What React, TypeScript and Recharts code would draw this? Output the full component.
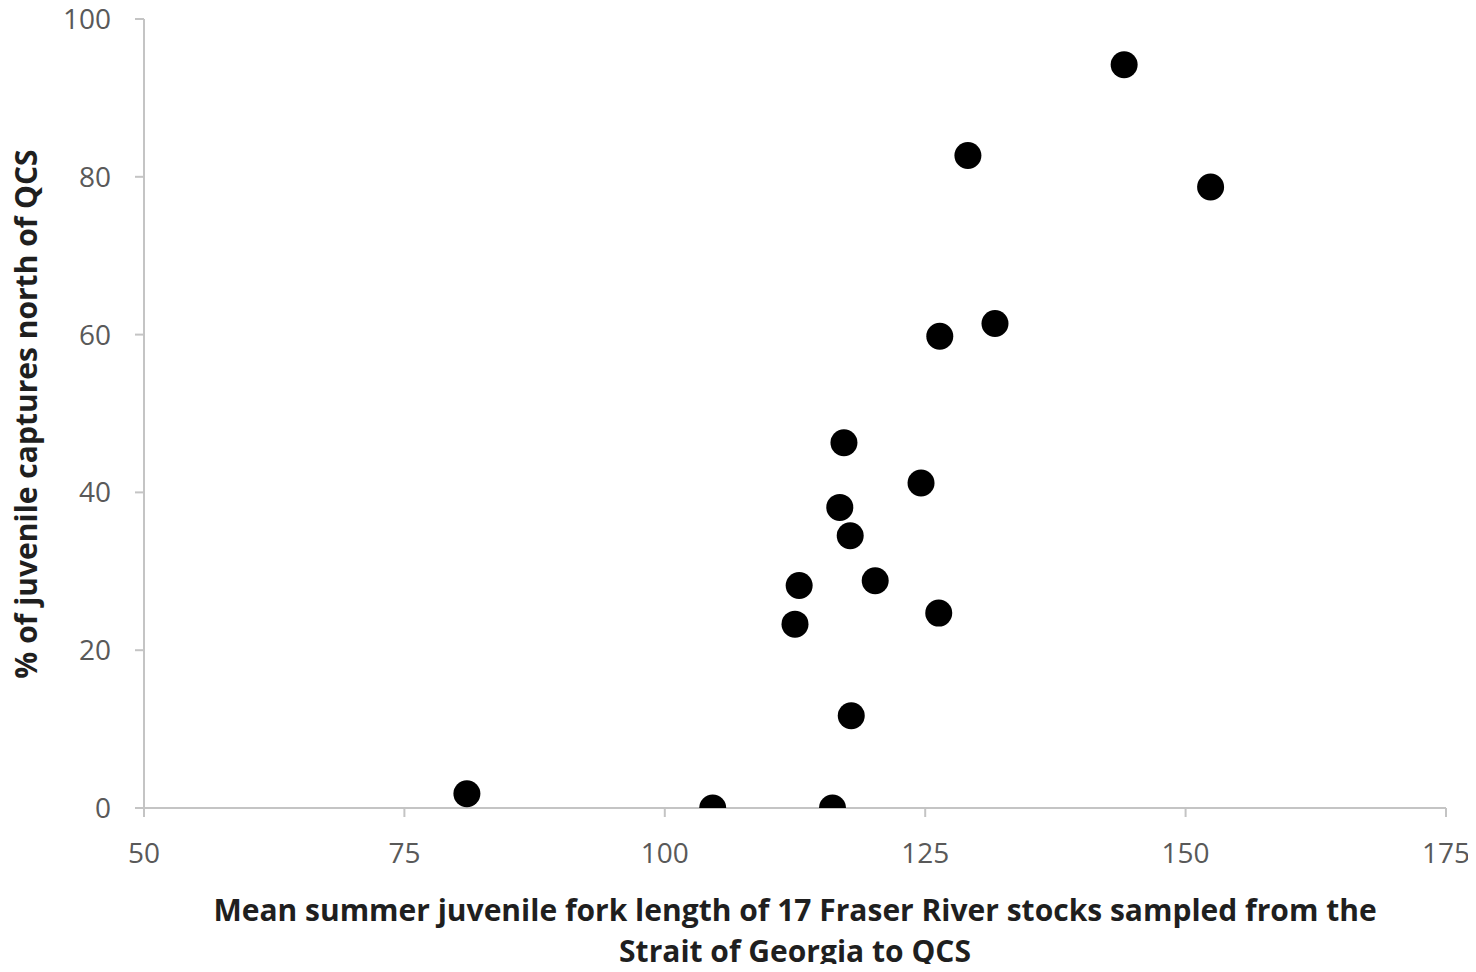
import React from "react";
import { ScatterChart, Scatter, XAxis, YAxis } from "recharts";

const forkLength = [81.0, 104.6, 116.1, 117.9, 112.5, 112.9, 120.2, 126.3, 117.8, 116.8, 124.6, 117.2, 126.4, 131.7, 129.1, 152.4, 144.1];
const pctNorth = [1.8, 0, 0, 11.7, 23.3, 28.2, 28.8, 24.7, 34.5, 38.1, 41.2, 46.3, 59.8, 61.4, 82.7, 78.7, 94.2];
const xTicks = [50, 75, 100, 125, 150, 175];
const yTicks = [0, 20, 40, 60, 80, 100];

const data = forkLength.map((x, i) => ({ x, y: pctNorth[i] }));

const W = 1476;
const H = 972;
const AXIS = "#C4C4C4";
const TICK_TEXT = "#595959";
const FONT = "'Open Sans', 'Liberation Sans', sans-serif";

const Dot = (props: any) => {
  const { cx, cy } = props;
  if (cx == null || cy == null) return null;
  return <circle cx={cx} cy={cy} r={13.5} fill="#000" />;
};

export default function App() {
  return (
    <div style={{ position: "relative", width: W, height: H, margin: -8, background: "#fff" }}>
      <ScatterChart
        width={W}
        height={H}
        margin={{ top: 19, right: 30, left: 0, bottom: 104 }}
        style={{ overflow: "visible" }}
      >
        <XAxis
          type="number"
          dataKey="x"
          domain={[50, 175]}
          ticks={xTicks}
          allowDataOverflow
          height={60}
          tickSize={9}
          tickMargin={26}
          axisLine={{ stroke: AXIS, strokeWidth: 2 }}
          tickLine={{ stroke: AXIS, strokeWidth: 2 }}
          tick={{ fill: TICK_TEXT, fontSize: 28, fontFamily: FONT }}
        />
        <YAxis
          type="number"
          dataKey="y"
          domain={[0, 100]}
          ticks={yTicks}
          allowDataOverflow
          width={144}
          tickSize={9}
          tickMargin={24}
          axisLine={{ stroke: AXIS, strokeWidth: 2 }}
          tickLine={{ stroke: AXIS, strokeWidth: 2 }}
          tick={{ fill: TICK_TEXT, fontSize: 28, fontFamily: FONT }}
        />
        <Scatter data={data} fill="#000" shape={Dot} isAnimationActive={false} />
      </ScatterChart>
      <div
        style={{
          position: "absolute",
          left: 144,
          width: 1302,
          top: 889,
          textAlign: "center",
          fontFamily: FONT,
          fontWeight: 700,
          fontSize: 30,
          lineHeight: "41px",
          color: "#1f1f1f",
          whiteSpace: "nowrap",
        }}
      >
        Mean summer juvenile fork length of 17 Fraser River stocks sampled from the
        <br />
        Strait of Georgia to QCS
      </div>
      <div style={{ position: "absolute", left: 25, top: 414, width: 0, height: 0 }}>
        <div
          style={{
            position: "absolute",
            left: 0,
            top: 0,
            transform: "translate(-50%, -50%) rotate(-90deg)",
            whiteSpace: "nowrap",
            fontFamily: FONT,
            fontWeight: 700,
            fontSize: 30,
            color: "#1f1f1f",
          }}
        >
          % of juvenile captures north of QCS
        </div>
      </div>
    </div>
  );
}
